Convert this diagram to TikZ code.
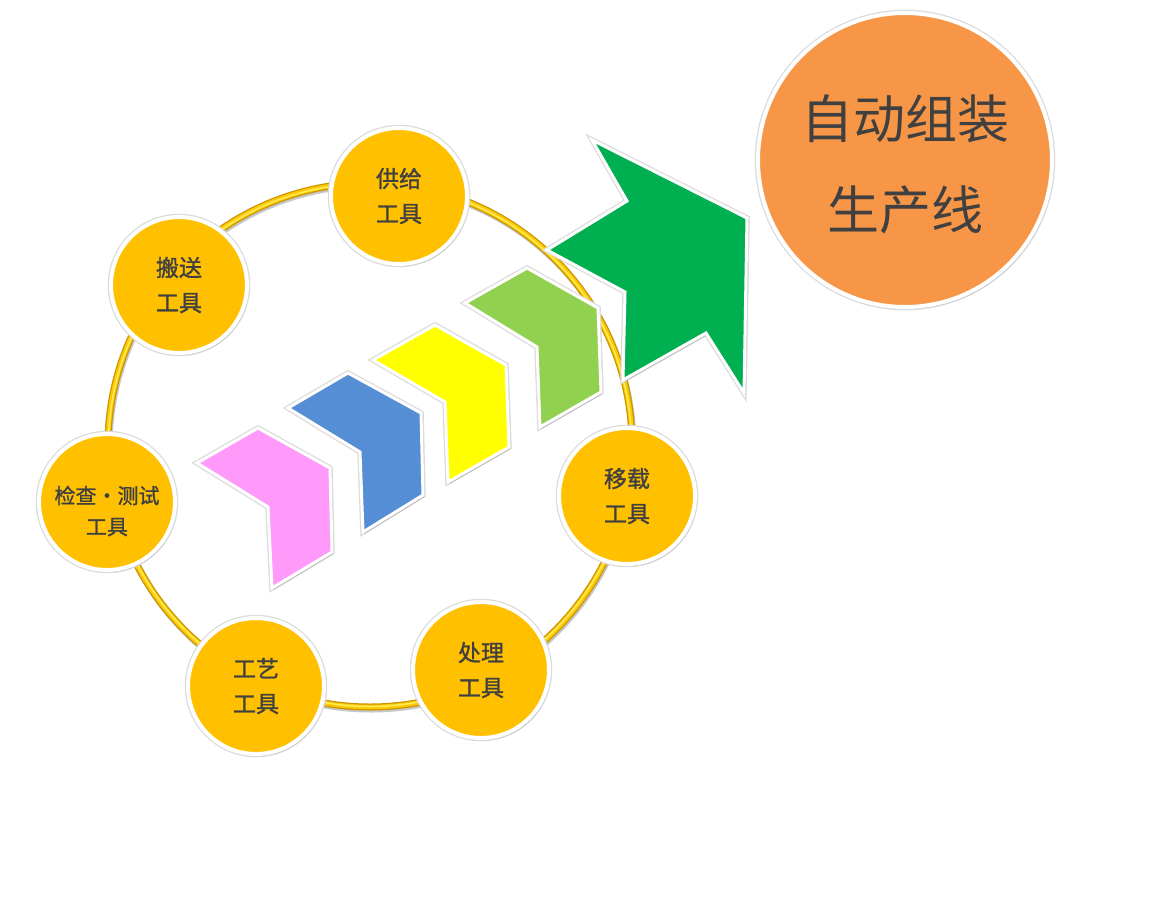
\documentclass[tikz,border=0pt]{standalone}
\usepackage{fontspec}
\newfontfamily\cjk{Noto Sans CJK SC}
\newfontfamily\cjkm[FakeBold=1.2]{Noto Sans CJK SC}
\usetikzlibrary{shadows}
\definecolor{toolgold}{HTML}{FFC000}
\definecolor{bigorange}{HTML}{F79646}
\definecolor{txtgray}{HTML}{404040}
\definecolor{ringdark}{RGB}{200,150,0}
\definecolor{ringmid}{RGB}{255,200,0}
\definecolor{ringlight}{RGB}{255,236,90}
\definecolor{chpink}{HTML}{FF99FA}
\definecolor{chblue}{HTML}{558ED5}
\definecolor{chyellow}{HTML}{FFFF00}
\definecolor{chlgreen}{HTML}{92D050}
\definecolor{chgreen}{HTML}{00B050}
\tikzset{
  shad/.style={drop shadow={shadow xshift=1.5pt,shadow yshift=-2pt,fill=black,opacity=0.15}},
  rim/.style={preaction={draw=black!14,line width=#1}},
  tool/.style={circle,fill=toolgold,draw=white,line width=4pt,rim=6.5pt,minimum size=136pt,inner sep=0pt,
    shad,align=center,text=txtgray,font=\cjkm\fontsize{23}{35}\selectfont},
  tooltext/.style={align=center,text=txtgray,font=\cjkm\fontsize{23}{35}\selectfont,inner sep=0pt},
  chev/.style={draw=white,line width=3pt,rim=5.5pt,line join=miter,shad},
}
\begin{document}
\begin{tikzpicture}[x=1pt,y=-1pt]
\useasboundingbox[fill=white] (0,0) rectangle (1152,900);
% ring
\coordinate (rc) at (370,445);
\draw[black!22,line width=7pt] ([xshift=1pt,yshift=-2pt]rc) circle[radius=262pt];
\draw[ringdark,line width=7pt] (rc) circle[radius=262pt];
\draw[ringmid,line width=4.5pt] (rc) circle[radius=262pt];
\draw[ringlight,line width=1.5pt] (rc) circle[radius=261.5pt];
% chevrons
\path[chev,fill=chpink] (197,463) -- (258,428) -- (330,468) -- (332,552) -- (272,588) -- (268,507) -- cycle;
\path[chev,fill=chblue] (288,408) -- (348,373) -- (421,413) -- (423,495) -- (363,532) -- (360,452) -- cycle;
\path[chev,fill=chyellow] (373,360) -- (435,325) -- (506,365) -- (509,447) -- (448,482) -- (445,402) -- cycle;
\path[chev,fill=chlgreen] (465,303) -- (527,268) -- (598,308) -- (601,392) -- (540,427) -- (537,347) -- cycle;
% big arrow
\path[chev,fill=chgreen] (592,140) -- (747,218) -- (744,393) -- (706,333) -- (623,380) -- (625,292) -- (547,250) -- (627,201) -- cycle;
% tool circles
\node[tool] (supply) at (399,196) {供给\\工具};
\node[tool] (carry) at (179,285) {搬送\\工具};
\node[tool] (inspect) at (107,502) {};
\node[tooltext,font=\cjkm\fontsize{21}{31}\selectfont] (inspecttext) at ([yshift=-9pt]inspect.center) {检查・测试\\工具};
\node[tool] (craft) at (256,686) {工艺\\工具};
\node[tool] (process) at (481,670) {处理\\工具};
\node[tool] (transfer) at (627,496) {移载\\工具};
% big circle
\node[circle,fill=bigorange,draw=white,line width=4pt,rim=6.5pt,minimum size=294pt,inner sep=0pt,shad] (line) at (905,160) {};
\node[align=center,text=txtgray,font=\cjk\fontsize{52}{91}\selectfont,inner sep=0pt] (linetext) at ([yshift=-4pt]line.center) {自动组装\\生产线};
\end{tikzpicture}
\end{document}
